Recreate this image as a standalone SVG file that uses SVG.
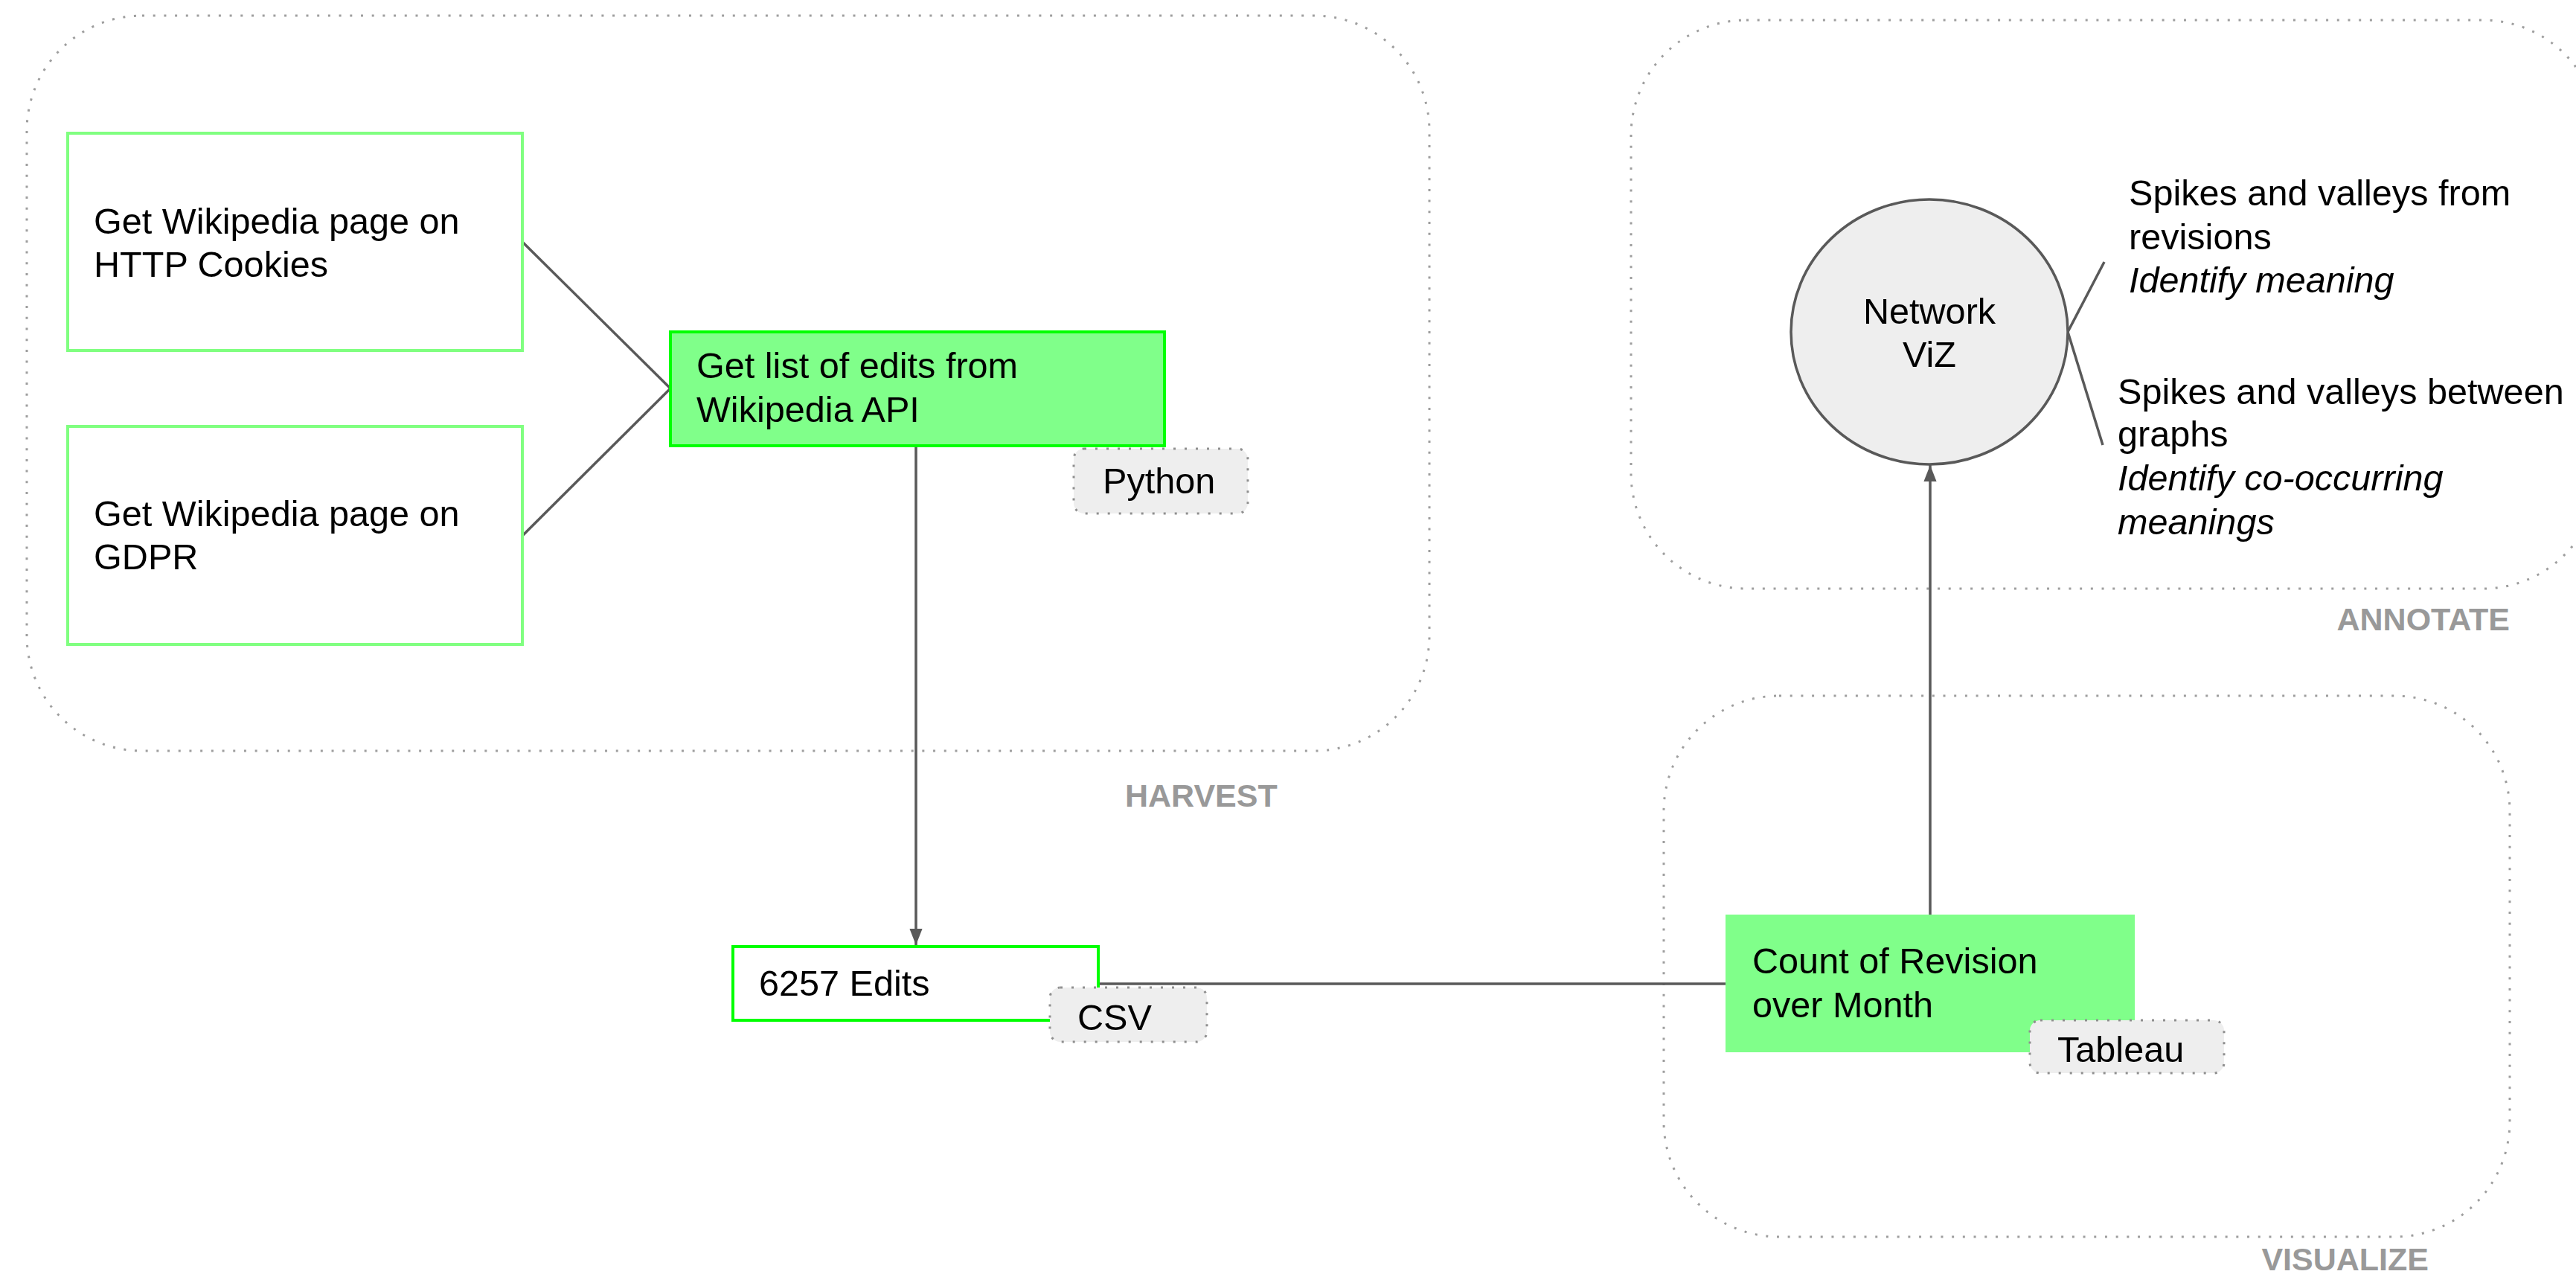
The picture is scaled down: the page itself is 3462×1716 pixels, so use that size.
<svg xmlns="http://www.w3.org/2000/svg" width="3462" height="1716" viewBox="0 0 3462 1716">
<defs>
<style>
.t{font-family:"Liberation Sans",Arial,sans-serif;font-size:48.6px;fill:#000}
.i{font-style:italic}
.lbl{font-family:"Liberation Sans",Arial,sans-serif;font-size:43px;font-weight:bold;fill:#999999}
.grp{fill:none;stroke:#9e9e9e;stroke-width:3;stroke-dasharray:3 11.7}
.tag{fill:#eeeeee;stroke:#8f8f8f;stroke-width:3;stroke-dasharray:3 12}
.pale{fill:#ffffff;stroke:#80ff80;stroke-width:4}
.solid{fill:#80ff8a;stroke:#00ff00;stroke-width:4}
.conn{fill:none;stroke:#595959;stroke-width:3.5}
</style>
<marker id="arr" markerWidth="6.4" markerHeight="5" refX="6.4" refY="2.5" orient="auto" markerUnits="strokeWidth" viewBox="0 0 6.4 5">
<path d="M0,0 L6.4,2.5 L0,5 Z" fill="#595959"/>
</marker>
</defs>
<rect width="3462" height="1716" fill="#ffffff"/>

<g id="group-harvest">
<rect class="grp" x="36" y="21" width="1885" height="988" rx="155" ry="155"/>
<text class="lbl" x="1512" y="1084">HARVEST</text>
</g>
<g id="group-annotate">
<rect class="grp" x="2192" y="27" width="1300" height="764" rx="155" ry="155"/>
<text class="lbl" x="3373" y="847" text-anchor="end">ANNOTATE</text>
</g>
<g id="group-visualize">
<rect class="grp" x="2236" y="935" width="1137" height="727" rx="155" ry="155"/>
<text class="lbl" x="3264" y="1707" text-anchor="end">VISUALIZE</text>
</g>

<g id="connectors">
<line class="conn" x1="702" y1="325" x2="901" y2="522"/>
<line class="conn" x1="702" y1="720" x2="901" y2="522"/>
<line class="conn" x1="1231" y1="599" x2="1231" y2="1270" marker-end="url(#arr)"/>
<line class="conn" x1="1476" y1="1322" x2="2319" y2="1322"/>
<line class="conn" x1="2594" y1="1229" x2="2594" y2="625" marker-end="url(#arr)"/>
<line class="conn" x1="2779" y1="446" x2="2828" y2="352"/>
<line class="conn" x1="2779" y1="446" x2="2826" y2="598"/>
</g>

<g id="node-cookies">
<rect class="pale" x="91" y="179" width="611" height="292"/>
<text class="t" x="126" y="314">Get Wikipedia page on</text>
<text class="t" x="126" y="372">HTTP Cookies</text>
</g>
<g id="node-gdpr">
<rect class="pale" x="91" y="573" width="611" height="293"/>
<text class="t" x="126" y="707">Get Wikipedia page on</text>
<text class="t" x="126" y="765">GDPR</text>
</g>
<g id="node-api">
<rect class="solid" x="901" y="446" width="664" height="153"/>
<text class="t" x="936" y="508">Get list of edits from</text>
<text class="t" x="936" y="567">Wikipedia API</text>
</g>
<g id="tag-python">
<rect class="tag" x="1443" y="603" width="234" height="87" rx="14" ry="14"/>
<text class="t" x="1482" y="663">Python</text>
</g>
<g id="node-edits">
<rect x="985" y="1272" width="491" height="99" fill="#ffffff" stroke="#00ff00" stroke-width="4"/>
<text class="t" x="1020" y="1338">6257 Edits</text>
</g>
<g id="tag-csv">
<rect class="tag" x="1411" y="1327" width="211" height="73" rx="14" ry="14"/>
<text class="t" x="1448" y="1384">CSV</text>
</g>
<g id="node-count">
<rect x="2319" y="1229" width="550" height="185" fill="#80ff8a"/>
<text class="t" x="2355" y="1308">Count of Revision</text>
<text class="t" x="2355" y="1367">over Month</text>
</g>
<g id="tag-tableau">
<rect class="tag" x="2728" y="1371" width="261" height="71" rx="14" ry="14"/>
<text class="t" x="2765" y="1427">Tableau</text>
</g>
<g id="node-network">
<ellipse cx="2593" cy="446" rx="186" ry="178" fill="#eeeeee" stroke="#595959" stroke-width="3.5"/>
<text class="t" x="2593" y="435" text-anchor="middle">Network</text>
<text class="t" x="2593" y="493" text-anchor="middle">ViZ</text>
</g>
<g id="note-revisions">
<text class="t" x="2861" y="276">Spikes and valleys from</text>
<text class="t" x="2861" y="335">revisions</text>
<text class="t i" x="2861" y="393">Identify meaning</text>
</g>
<g id="note-graphs">
<text class="t" x="2846" y="543">Spikes and valleys between</text>
<text class="t" x="2846" y="600">graphs</text>
<text class="t i" x="2846" y="659">Identify co-occurring</text>
<text class="t i" x="2846" y="718">meanings</text>
</g>
</svg>
